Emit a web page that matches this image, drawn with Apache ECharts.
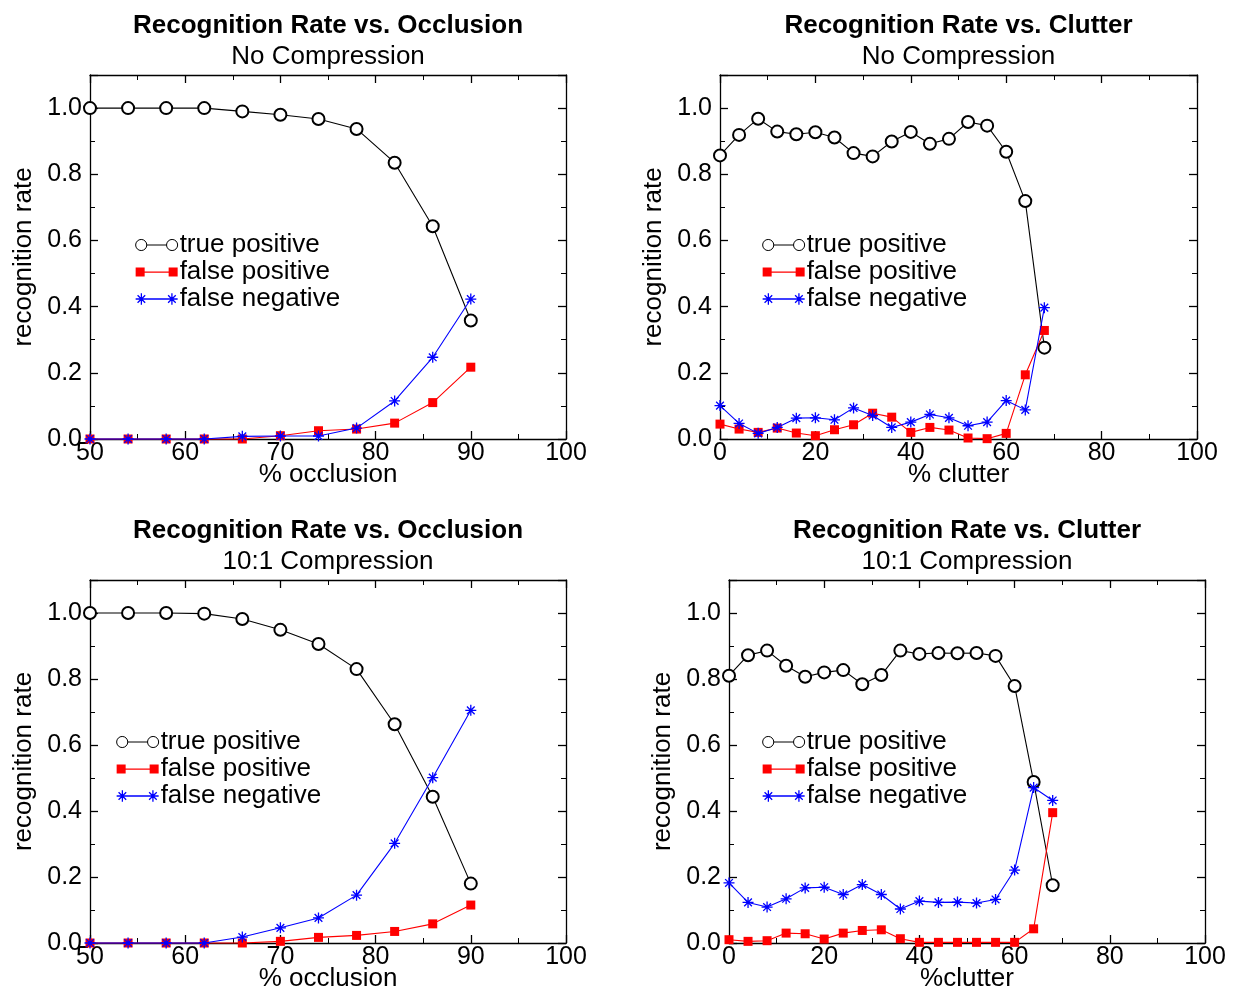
<!DOCTYPE html>
<html>
<head>
<meta charset="utf-8">
<script src="https://cdn.jsdelivr.net/npm/echarts@6/dist/echarts.min.js"></script>
<style>
html,body{margin:0;padding:0;background:#fff;}
#chart{width:1234px;height:990px;}
</style>
</head>
<body>
<div id="chart"></div>
<script>
// ---- data ----
const occlusion = [50, 54, 58, 62, 66, 70, 74, 78, 82, 86, 90];
const clutter = [0, 4, 8, 12, 16, 20, 24, 28, 32, 36, 40, 44, 48, 52, 56, 60, 64, 68];

const occNoneTP = [1.0, 1.0, 1.0, 1.0, 0.99, 0.98, 0.967, 0.937, 0.835, 0.643, 0.358];
const occNoneFP = [0, 0, 0, 0, 0, 0.01, 0.025, 0.03, 0.048, 0.11, 0.217];
const occNoneFN = [0, 0, 0, 0, 0.008, 0.009, 0.009, 0.033, 0.115, 0.247, 0.423];

const clutNoneTP = [0.857, 0.919, 0.968, 0.929, 0.921, 0.927, 0.911, 0.864, 0.854, 0.899, 0.928, 0.892, 0.907, 0.958, 0.947, 0.868, 0.719, 0.276];
const clutNoneFP = [0.045, 0.030, 0.020, 0.033, 0.018, 0.010, 0.028, 0.043, 0.078, 0.066, 0.020, 0.035, 0.027, 0.003, 0.001, 0.017, 0.194, 0.328];
const clutNoneFN = [0.101, 0.047, 0.017, 0.035, 0.063, 0.064, 0.058, 0.094, 0.071, 0.035, 0.051, 0.074, 0.064, 0.040, 0.051, 0.116, 0.088, 0.397];

const occCompTP = [1.0, 1.0, 1.0, 0.998, 0.982, 0.949, 0.906, 0.830, 0.663, 0.443, 0.180];
const occCompFP = [0, 0, 0, 0, 0, 0.005, 0.017, 0.023, 0.035, 0.058, 0.115];
const occCompFN = [0, 0, 0, 0, 0.018, 0.046, 0.076, 0.145, 0.302, 0.501, 0.705];

const clutCompTP = [0.810, 0.872, 0.886, 0.840, 0.807, 0.820, 0.827, 0.784, 0.812, 0.886, 0.876, 0.879, 0.878, 0.879, 0.870, 0.779, 0.488, 0.175];
const clutCompFP = [0.010, 0.005, 0.007, 0.030, 0.028, 0.012, 0.030, 0.038, 0.040, 0.013, 0.002, 0.002, 0.002, 0.002, 0.002, 0.002, 0.043, 0.395];
const clutCompFN = [0.182, 0.123, 0.109, 0.134, 0.167, 0.169, 0.147, 0.177, 0.147, 0.103, 0.127, 0.123, 0.124, 0.121, 0.132, 0.221, 0.471, 0.432];

const seriesNames = ['true positive', 'false positive', 'false negative'];
const titles = ['Recognition Rate vs. Occlusion', 'Recognition Rate vs. Clutter', 'Recognition Rate vs. Occlusion', 'Recognition Rate vs. Clutter'];
const subtitles = ['No Compression', 'No Compression', '10:1 Compression', '10:1 Compression'];
const xNames = ['% occlusion', '% clutter', '% occlusion', '%clutter'];
const yName = 'recognition rate';

// ---- layout / style ----
const FONT = '"Liberation Sans", Arial, Helvetica, sans-serif';
const grids = [
  {left: 90, top: 75, width: 476, height: 364},
  {left: 720, top: 75, width: 477, height: 364},
  {left: 90, top: 580, width: 476, height: 363},
  {left: 729, top: 580, width: 476, height: 363}
];
const xRanges = [
  {min: 50, max: 100, interval: 10},
  {min: 0, max: 100, interval: 20},
  {min: 50, max: 100, interval: 10},
  {min: 0, max: 100, interval: 20}
];
const panelData = [
  {x: occlusion, ys: [occNoneTP, occNoneFP, occNoneFN]},
  {x: clutter, ys: [clutNoneTP, clutNoneFP, clutNoneFN]},
  {x: occlusion, ys: [occCompTP, occCompFP, occCompFN]},
  {x: clutter, ys: [clutCompTP, clutCompFP, clutCompFN]}
];
const legendPos = [
  {left: 135, top: 232},
  {left: 762, top: 232},
  {left: 116, top: 729},
  {left: 762, top: 729}
];

const lineStyleAxis = {color: '#000', width: 1.3};
function axisBase(show) {
  return {
    axisLine: {show: true, onZero: false, lineStyle: lineStyleAxis},
    axisTick: {show: true, inside: true, length: 8, lineStyle: lineStyleAxis},
    minorTick: {show: true, splitNumber: 2, length: 5, lineStyle: {color: '#000', width: 1}},
    splitLine: {show: false},
    axisLabel: {show: show, color: '#000', fontSize: 25, fontFamily: FONT},
    nameMoveOverlap: false
  };
}

const xAxes = [], yAxes = [], series = [], title = [], legends = [];
const ASTER = 'path://M5,0L5,10M0,5L10,5M1.5,1.5L8.5,8.5M1.5,8.5L8.5,1.5';
const iconTP = 'path://M0.6,6A5.4,5.4 0 1 1 11.4,6A5.4,5.4 0 1 1 0.6,6ZM11.4,6L30.6,6M30.6,6A5.4,5.4 0 1 1 41.4,6A5.4,5.4 0 1 1 30.6,6Z';
const iconFP = 'path://M0,1.5h9v9h-9ZM9,5.5h24v1.2h-24ZM33,1.5h9v9h-9Z';
const iconFN = 'path://M5,0L5,12M-1,6L11,6M1,2L9,10M1,10L9,2M11,6L31,6M37,0L37,12M31,6L43,6M33,2L41,10M33,10L41,2';

grids.forEach((g, i) => {
  const xr = xRanges[i];
  xAxes.push(Object.assign(axisBase(true), {
    type: 'value', gridIndex: i, position: 'bottom',
    min: xr.min, max: xr.max, interval: xr.interval,
    name: xNames[i], nameLocation: 'middle', nameGap: 23,
    nameTextStyle: {color: '#000', fontSize: 26, fontFamily: FONT}
  }));
  xAxes[xAxes.length - 1].axisLabel.margin = 2;
  xAxes.push(Object.assign(axisBase(false), {
    type: 'value', gridIndex: i, position: 'top',
    min: xr.min, max: xr.max, interval: xr.interval
  }));
  const ya = Object.assign(axisBase(true), {
    type: 'value', gridIndex: i, position: 'left',
    min: 0, max: 1.1, interval: 0.2,
    name: yName, nameLocation: 'middle', nameGap: 53,
    nameTextStyle: {color: '#000', fontSize: 26, fontFamily: FONT}
  });
  ya.axisLabel.margin = 8;
  ya.axisLabel.showMaxLabel = false;
  ya.axisLabel.formatter = v => v.toFixed(1);
  yAxes.push(ya);
  yAxes.push(Object.assign(axisBase(false), {
    type: 'value', gridIndex: i, position: 'right',
    min: 0, max: 1.1, interval: 0.2
  }));

  const cx = g.left + g.width / 2;
  title.push({
    text: titles[i], subtext: subtitles[i],
    left: cx, top: g.top - 62, textAlign: 'center', itemGap: 5, padding: 0,
    textStyle: {fontSize: 26, fontWeight: 'bold', color: '#000', fontFamily: FONT},
    subtextStyle: {fontSize: 26, color: '#000', fontFamily: FONT}
  });

  const pd = panelData[i];
  const styles = [
    {symbol: 'emptyCircle', symbolSize: 12, color: '#000', borderWidth: 1},
    {symbol: 'rect', symbolSize: 9, color: '#ff0000', borderWidth: 0},
    {symbol: ASTER, symbolSize: 11, color: '#0000ff', borderWidth: 1.3}
  ];
  pd.ys.forEach((ys, k) => {
    const st = styles[k];
    series.push({
      type: 'line', name: seriesNames[k],
      xAxisIndex: i * 2, yAxisIndex: i * 2,
      data: pd.x.map((xv, j) => [xv, ys[j]]),
      symbol: st.symbol, symbolSize: st.symbolSize, showAllSymbol: true,
      clip: false, animation: false,
      lineStyle: {color: st.color, width: 1.1},
      itemStyle: {color: st.color, borderColor: st.color, borderWidth: st.borderWidth},
      z: 2 + k
    });
  });

  legends.push({
    left: legendPos[i].left, top: legendPos[i].top,
    orient: 'vertical', itemWidth: 42, itemHeight: 12, itemGap: 1,
    selectedMode: false, padding: 0,
    textStyle: {fontSize: 26, color: '#000', fontFamily: FONT, lineHeight: 26, padding: [0, 0, 0, -3]},
    data: [
      {name: seriesNames[0], icon: iconTP, itemStyle: {color: '#fff', borderColor: '#000', borderWidth: 1}},
      {name: seriesNames[1], icon: iconFP, itemStyle: {color: '#ff0000', borderColor: '#ff0000', borderWidth: 0}},
      {name: seriesNames[2], icon: iconFN, itemStyle: {color: '#0000ff', borderColor: '#0000ff', borderWidth: 1.3}}
    ]
  });
});

const chart = echarts.init(document.getElementById('chart'), null, {renderer: 'canvas'});
chart.setOption({
  backgroundColor: '#fff',
  animation: false,
  title: title,
  legend: legends,
  grid: grids.map(g => Object.assign({show: false, outerBoundsMode: 'none', containLabel: false}, g)),
  xAxis: xAxes,
  yAxis: yAxes,
  series: series
});
</script>
</body>
</html>
